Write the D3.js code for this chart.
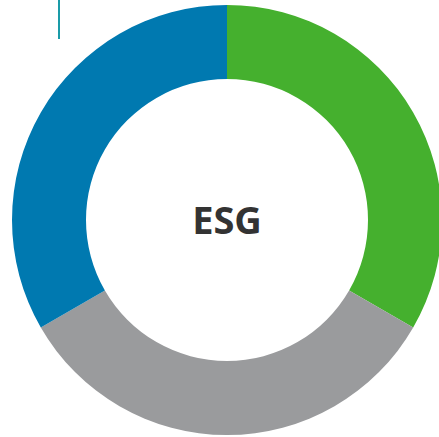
<!DOCTYPE html>
<html>
<head>
<meta charset="utf-8">
<script src="https://cdn.jsdelivr.net/npm/d3@7"></script>
<style>
  html, body { margin: 0; padding: 0; background: #fff; }
  svg { display: block; }
</style>
</head>
<body>
<svg id="chart"></svg>
<script>
const width = 439;
const height = 437;

// data
const segments = ["Environmental", "Social", "Governance"];
const values = [1, 1, 1];
const colors = ["#45b02e", "#9a9b9d", "#0079b0"];
const centerLabel = "ESG";

const cx = 227, cy = 220;
const outerR = 215, innerR = 141;

const svg = d3.select("#chart")
    .attr("width", width)
    .attr("height", height);

// small teal marker at top left
svg.append("line")
    .attr("x1", 59).attr("x2", 59)
    .attr("y1", 0).attr("y2", 39)
    .attr("stroke", "#1a9ba8")
    .attr("stroke-width", 2);

const pie = d3.pie()
    .sort(null)
    .value(d => d.value);

const arc = d3.arc()
    .innerRadius(innerR)
    .outerRadius(outerR);

const colorScale = d3.scaleOrdinal()
    .domain(segments)
    .range(colors);

const g = svg.append("g")
    .attr("transform", `translate(${cx}, ${cy})`);

g.selectAll("path")
    .data(pie(segments.map((s, i) => ({ name: s, value: values[i] }))))
    .join("path")
    .attr("d", arc)
    .attr("fill", d => colorScale(d.data.name));

g.append("text")
    .attr("x", 0)
    .attr("y", 14)
    .attr("text-anchor", "middle")
    .style("font-family", "'Open Sans', sans-serif")
    .style("font-weight", "bold")
    .style("font-size", "38px")
    .attr("fill", "#333333")
    .text(centerLabel);
</script>
</body>
</html>
